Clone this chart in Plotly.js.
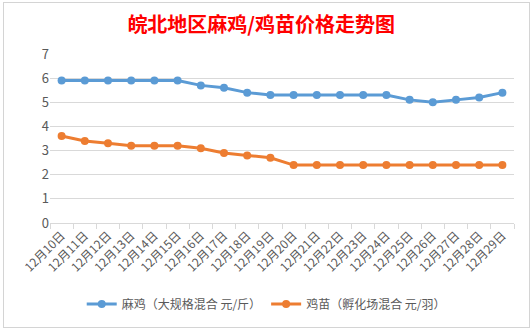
<!DOCTYPE html>
<html>
<head>
<meta charset="utf-8">
<script src="https://cdn.plot.ly/plotly-3.0.1.min.js"></script>
<style>
html,body{margin:0;padding:0;background:#fff;}
#wrap{position:relative;width:531px;height:330px;}
#chart{width:531px;height:330px;}
#frame{position:absolute;left:3px;top:2px;width:525px;height:324px;border:1px solid #d4d4d4;pointer-events:none;}
</style>
</head>
<body>
<div id="wrap"><div id="chart"></div><div id="frame"></div></div>
<script>
const dates = ["12月10日","12月11日","12月12日","12月13日","12月14日","12月15日","12月16日","12月17日","12月18日","12月19日",
               "12月20日","12月21日","12月22日","12月23日","12月24日","12月25日","12月26日","12月27日","12月28日","12月29日"];
const majiName = "麻鸡（大规格混合 元/斤）";
const jimiaoName = "鸡苗（孵化场混合 元/羽）";
const majiPrice = [5.9,5.9,5.9,5.9,5.9,5.9,5.7,5.6,5.4,5.3,5.3,5.3,5.3,5.3,5.3,5.1,5.0,5.1,5.2,5.4];
const jimiaoPrice = [3.6,3.4,3.3,3.2,3.2,3.2,3.1,2.9,2.8,2.7,2.4,2.4,2.4,2.4,2.4,2.4,2.4,2.4,2.4,2.4];
const chartTitle = "皖北地区麻鸡/鸡苗价格走势图";

const font = "'Noto Sans CJK SC', 'Microsoft YaHei', sans-serif";
const traces = [
  {x: dates, y: majiPrice, name: majiName, type: 'scatter', mode: 'lines+markers',
   line: {color: '#5B9BD5', width: 3}, marker: {color: '#5B9BD5', size: 8}},
  {x: dates, y: jimiaoPrice, name: jimiaoName, type: 'scatter', mode: 'lines+markers',
   line: {color: '#ED7D31', width: 3}, marker: {color: '#ED7D31', size: 8}}
];
const layout = {
  width: 531, height: 330,
  margin: {l: 50, r: 17, t: 54, b: 105},
  paper_bgcolor: '#fff', plot_bgcolor: '#fff',
  font: {family: font, color: '#595959', size: 12},
  title: {text: chartTitle, x: 0.492, xanchor: 'center', xref: 'container',
          y: 0.925, yanchor: 'middle', yref: 'container',
          font: {family: font, color: '#FF0000', size: 20, weight: 'bold'}},
  xaxis: {type: 'category', range: [-0.5, 19.5], tickangle: -45,
          showgrid: false, showline: true, linecolor: '#d9d9d9', linewidth: 1,
          ticks: 'outside', ticklen: 5, tickcolor: '#d9d9d9', tickson: 'boundaries',
          tickfont: {family: font, size: 12, color: '#595959'}, fixedrange: true},
  yaxis: {range: [0, 7], dtick: 1, showgrid: true, gridcolor: '#d9d9d9', gridwidth: 1,
          zeroline: false, showline: false, ticks: '',
          tickfont: {family: font, size: 13, color: '#595959'}, fixedrange: true},
  showlegend: true,
  legend: {orientation: 'h', x: 0.466, xanchor: 'center', y: -0.48, yanchor: 'middle',
           font: {family: font, size: 12, color: '#595959'}, itemwidth: 30, bgcolor: 'rgba(0,0,0,0)'}
};
Plotly.newPlot('chart', traces, layout, {displayModeBar: false, staticPlot: true});
</script>
</body>
</html>
